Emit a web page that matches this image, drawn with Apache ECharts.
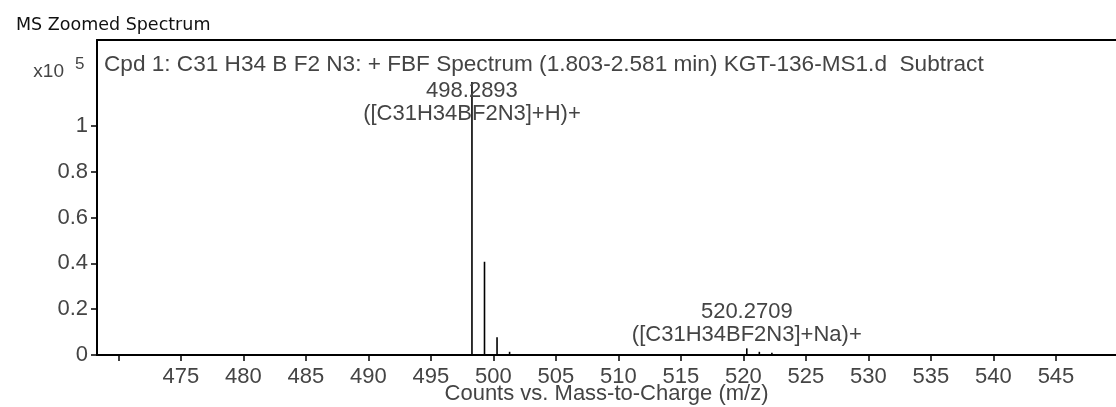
<!DOCTYPE html>
<html>
<head>
<meta charset="utf-8">
<script src="https://cdn.jsdelivr.net/npm/echarts@6/dist/echarts.min.js"></script>
<style>
html,body{margin:0;padding:0;background:#fff;}
#chart{width:1116px;height:407px;}
</style>
</head>
<body>
<div id="chart"></div>
<script>
// ---- data ----
const mzValues = [498.2893, 499.2925, 500.2955, 501.2990, 520.2709, 521.2740, 522.2780];
const intensities = [1.192, 0.407, 0.077, 0.014, 0.029, 0.014, 0.010]; // x10^5 counts
const peakLabels = ['498.2893\n([C31H34BF2N3]+H)+', '', '', '', '520.2709\n([C31H34BF2N3]+Na)+', '', ''];
const yTickValues = [0, 0.2, 0.4, 0.6, 0.8, 1];
const xTickValues = [470, 475, 480, 485, 490, 495, 500, 505, 510, 515, 520, 525, 530, 535, 540, 545];
const xLabelValues = [475, 480, 485, 490, 495, 500, 505, 510, 515, 520, 525, 530, 535, 540, 545];
const panelTitle = 'MS Zoomed Spectrum';
const spectrumTitle = 'Cpd 1: C31 H34 B F2 N3: + FBF Spectrum (1.803-2.581 min) KGT-136-MS1.d  Subtract';
const xAxisName = 'Counts vs. Mass-to-Charge (m/z)';

// ---- style ----
const FONT = '"Liberation Sans", Arial, sans-serif';
const FS = 22;
const TEXT = '#444';
const labelOffsets = [44, 0, 0, 0, -2, 0, 0]; // px shift of label bottom relative to peak top

const seriesData = mzValues.map((m, i) => [m, intensities[i], i]);

const chart = echarts.init(document.getElementById('chart'), null, {renderer: 'canvas'});
chart.setOption({
  animation: false,
  backgroundColor: '#fff',
  title: [
    {text: panelTitle, left: 11, top: 11, textStyle: {fontFamily: '"DejaVu Sans", sans-serif', fontSize: 17.5, fontWeight: 'normal', color: '#111'}},
    {text: spectrumTitle, left: 99, top: 48, textStyle: {fontFamily: FONT, fontSize: 22.6, fontWeight: 'normal', color: TEXT}}
  ],
  graphic: [
    {type: 'text', right: 1116 - 64, top: 62, style: {text: 'x10', font: '19px ' + FONT, fill: TEXT}},
    {type: 'text', left: 75, top: 56, style: {text: '5', font: '17px ' + FONT, fill: TEXT}}
  ],
  grid: {left: 97, right: 0, top: 40, bottom: 52, containLabel: false, outerBoundsMode: 'none'},
  xAxis: [
    {
      type: 'value', min: 468.3, max: 549.8, position: 'bottom',
      name: xAxisName, nameLocation: 'middle', nameGap: 28, nameMoveOverlap: false,
      nameTextStyle: {fontFamily: FONT, fontSize: FS, color: TEXT},
      axisLine: {show: true, onZero: false, lineStyle: {color: '#000', width: 2}},
      axisTick: {show: true, length: 6, lineStyle: {color: '#000', width: 1.5}, customValues: xTickValues},
      axisLabel: {show: true, margin: 11, fontFamily: FONT, fontSize: FS, color: TEXT, customValues: xLabelValues},
      splitLine: {show: false}
    },
    {
      type: 'value', min: 468.3, max: 549.8, position: 'top',
      axisLine: {show: true, onZero: false, lineStyle: {color: '#000', width: 2}},
      axisTick: {show: false}, axisLabel: {show: false}, splitLine: {show: false}
    }
  ],
  yAxis: {
    type: 'value', min: 0, max: 1.375,
    axisLine: {show: true, onZero: false, lineStyle: {color: '#000', width: 2}},
    axisTick: {show: true, length: 6, lineStyle: {color: '#000', width: 1.5}, customValues: yTickValues},
    axisLabel: {show: true, margin: 9, fontFamily: FONT, fontSize: FS, color: TEXT, customValues: yTickValues,
      formatter: v => String(Math.round(v * 10) / 10)},
    splitLine: {show: false}
  },
  series: [{
    type: 'custom',
    xAxisIndex: 0,
    clip: false,
    data: seriesData,
    renderItem: function (params, api) {
      const x = api.value(0), y = api.value(1), idx = api.value(2);
      const p0 = api.coord([x, 0]);
      const p1 = api.coord([x, y]);
      const children = [{
        type: 'line',
        shape: {x1: p0[0], y1: p0[1], x2: p1[0], y2: p1[1]},
        style: {stroke: '#000', lineWidth: 1.6}
      }];
      const txt = peakLabels[idx];
      if (txt) {
        children.push({
          type: 'text',
          x: p1[0], y: p1[1] + labelOffsets[idx],
          style: {text: txt, font: FS + 'px ' + FONT, fill: TEXT, align: 'center', verticalAlign: 'bottom', lineHeight: 23}
        });
      }
      return {type: 'group', children: children};
    }
  }]
});
</script>
</body>
</html>
